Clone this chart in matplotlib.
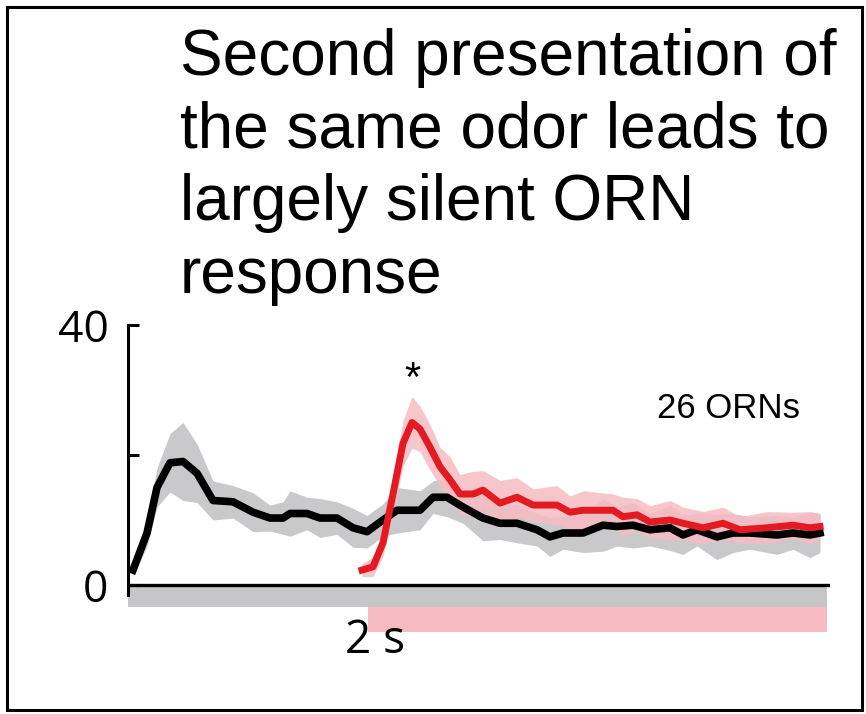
import numpy as np
import matplotlib.pyplot as plt
from matplotlib.patches import Rectangle

# first presentation (black) - time in s, rate in Hz, sem
t_first = [0.10, 0.38, 0.58, 0.84, 1.10, 1.38, 1.70, 2.10, 2.50, 2.84, 3.10, 3.24, 3.58, 3.84,
           4.18, 4.50, 4.78, 5.10, 5.38, 5.84, 6.10, 6.38, 6.70, 7.10, 7.44, 7.78, 8.18, 8.44,
           8.70, 9.10, 9.50, 9.78, 10.10, 10.44, 10.84, 11.10, 11.38, 11.78, 12.10, 12.44,
           12.98, 13.30, 13.64, 13.84]
rate_first = [2.3, 8.0, 15.0, 18.8, 19.0, 17.2, 13.0, 12.8, 11.2, 10.3, 10.3, 11.0, 11.0, 10.3,
              10.3, 8.8, 8.2, 10.0, 11.5, 11.5, 13.5, 13.5, 12.0, 10.3, 9.5, 9.5, 8.5, 7.4,
              8.0, 8.0, 9.2, 9.0, 9.2, 8.5, 8.8, 7.7, 8.5, 7.4, 8.0, 8.0,
              7.7, 8.0, 7.7, 8.0]
sem_first = [1.0, 2.0, 3.0, 4.5, 6.0, 4.5, 3.0, 2.5, 3.0, 2.0, 2.5, 3.5, 2.5, 3.0,
             2.5, 3.0, 2.5, 2.5, 3.5, 3.0, 2.5, 3.0, 2.5, 3.5, 2.5, 3.0, 2.5, 3.0,
             2.5, 3.0, 4.0, 3.0, 3.5, 2.5, 3.5, 3.0, 2.5, 3.5, 3.0, 2.5,
             3.0, 2.5, 3.5, 3.0]

# second presentation (red)
t_second = [4.68, 4.90, 5.10, 5.30, 5.50, 5.68, 5.84, 6.04, 6.24, 6.44, 6.64, 6.90, 7.10, 7.44,
            7.78, 8.10, 8.58, 8.84, 9.10, 9.70, 9.90, 10.18, 10.44, 10.84, 11.10, 11.50,
            11.90, 12.24, 12.78, 13.30, 13.64, 13.84]
rate_second = [2.3, 2.8, 6.5, 14.0, 21.8, 25.0, 24.0, 21.2, 18.2, 16.2, 14.0, 14.0, 14.6, 12.6,
               13.5, 12.3, 12.3, 11.2, 11.5, 11.5, 10.5, 10.8, 9.7, 10.0, 9.5, 8.8,
               9.5, 8.5, 8.8, 9.2, 8.8, 9.0]
sem_second = [1.0, 1.5, 2.0, 3.0, 3.5, 4.0, 3.5, 3.5, 3.0, 3.5, 3.0, 3.5, 3.0, 3.5,
              3.0, 2.5, 3.0, 2.5, 3.0, 2.5, 3.0, 2.5, 2.5, 3.0, 2.5, 2.5,
              2.5, 2.0, 2.5, 2.0, 2.5, 2.0]

first_bar = (0.0, 13.98)
second_bar = (4.8, 13.98)

plt.rcParams['font.family'] = ['Open Sans', 'DejaVu Sans']

fig = plt.figure(figsize=(8.66, 7.14), dpi=100)
ax = fig.add_axes([128 / 866, 1 - 637 / 714, 702 / 866, 318.5 / 714])

tf = np.array(t_first); rf = np.array(rate_first); sf = np.array(sem_first)
ts = np.array(t_second); rs = np.array(rate_second); ss = np.array(sem_second)

ax.fill_between(tf, rf - sf, rf + sf, color='#c9c9cb', lw=0)
ax.fill_between(ts, rs - ss, rs + ss, color='#f6bcc2', lw=0, alpha=0.85)
ax.plot(tf, rf, color='black', lw=5.5, solid_joinstyle='round')
ax.plot(ts, rs, color='#e31a22', lw=5, solid_joinstyle='round')

# stimulus bars
ax.add_patch(Rectangle((first_bar[0], -3.4), first_bar[1] - first_bar[0], 3.1,
                       color='#c6c6c8', lw=0))
ax.add_patch(Rectangle((second_bar[0], -7.2), second_bar[1] - second_bar[0], 3.8,
                       color='#f8bac1', lw=0))
ax.plot([0, 14.04], [0, 0], color='black', lw=2.4, solid_capstyle='butt')

ax.set_xlim(0, 14.04)
ax.set_ylim(-8, 41)
for s in ['top', 'right', 'bottom']:
    ax.spines[s].set_visible(False)
ax.spines['left'].set_bounds(-1.5, 40)
ax.spines['left'].set_linewidth(2.2)
ax.set_xticks([])
ax.set_yticks([0, 20, 40])
ax.set_yticklabels(['0', '', '40'])
ax.tick_params(axis='y', direction='in', length=8, width=2.2, pad=14, labelsize=32)
ax.patch.set_alpha(0)

ax.text(5.68, 31.5, '*', ha='center', va='center', fontsize=30, family='Liberation Sans')
ax.text(10.58, 27.1, '26 ORNs', ha='left', va='center', fontsize=25, family='Liberation Sans')
ax.text(4.94, -8.6, '2 s', ha='center', va='center', fontsize=33)

fig.text(180 / 866, 1 - 28 / 714, 'Second presentation of\nthe same odor leads to\nlargely silent ORN\nresponse',
         ha='left', va='top', fontsize=46, family='Liberation Sans', linespacing=1.27)

fig.patches.append(Rectangle((7 / 866, 4 / 714), 855 / 866, 703 / 714, transform=fig.transFigure,
                             fill=False, edgecolor='black', lw=2.2))

fig.savefig('out.png', dpi=100)
